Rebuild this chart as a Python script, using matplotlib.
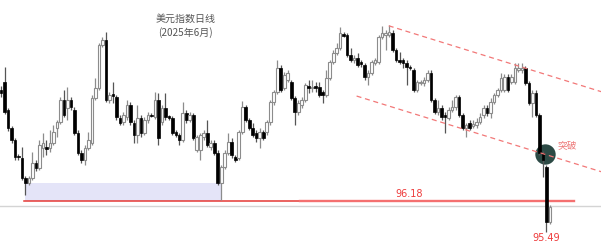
import matplotlib
matplotlib.use("Agg")
import matplotlib.pyplot as plt

plt.rcParams['font.family'] = ['Noto Sans CJK SC', 'DejaVu Sans']

# bougies journalieres
opens = [98.68, 98.86, 98.23, 97.82, 97.55, 97.19, 97.15, 96.70, 96.58, 96.70,
         97.03, 96.92, 97.37, 97.39, 97.37, 97.48, 97.82, 97.96, 98.45, 98.27,
         98.45, 98.23, 97.71, 97.26, 97.10, 97.37, 97.48, 98.50, 98.72, 99.69,
         99.80, 98.45, 98.59, 98.52, 98.05, 97.96, 98.07, 98.34, 97.93, 97.66,
         98.05, 97.71, 98.00, 98.12, 98.07, 98.45, 97.96, 98.27, 98.09, 98.05,
         97.73, 97.66, 97.55, 98.16, 98.00, 98.11, 97.33, 97.33, 97.62, 97.71,
         97.39, 97.48, 97.26, 96.58, 96.94, 97.26, 97.51, 97.17, 97.15, 97.73,
         98.29, 98.00, 97.82, 97.71, 97.60, 97.73, 97.73, 97.96, 98.41, 98.63,
         99.17, 98.72, 98.90, 98.86, 98.50, 98.18, 98.34, 98.45, 98.77, 98.71,
         98.77, 98.74, 98.63, 98.56, 98.95, 99.31, 99.51, 99.62, 99.94, 99.91,
         99.46, 99.35, 99.40, 99.31, 99.24, 98.97, 99.06, 99.28, 99.31, 99.87,
         99.91, 99.91, 99.96, 99.58, 99.35, 99.35, 99.28, 99.19, 99.13, 98.68,
         98.83, 98.83, 98.90, 99.06, 98.45, 98.18, 98.27, 98.11, 98.05, 98.23,
         98.29, 98.52, 98.11, 97.82, 97.93, 97.87, 97.89, 97.96, 98.11, 98.27,
         98.16, 98.41, 98.56, 98.68, 98.68, 98.97, 98.86, 98.86, 99.13, 99.13,
         99.17, 98.83, 98.38, 98.61, 98.11, 97.26, 96.94, 95.71]
highs = [98.77, 99.19, 98.27, 97.87, 97.60, 97.24, 97.39, 96.74, 96.74, 97.28,
         97.10, 97.55, 97.71, 97.55, 97.78, 97.89, 98.00, 98.52, 98.68, 98.74,
         98.52, 98.29, 97.78, 97.33, 97.44, 97.73, 98.56, 98.95, 99.73, 99.87,
         99.98, 98.63, 98.86, 98.56, 98.11, 98.18, 98.45, 98.41, 98.00, 98.34,
         98.11, 98.07, 98.18, 98.16, 98.63, 98.61, 98.34, 98.61, 98.11, 98.09,
         97.78, 97.71, 98.41, 98.23, 98.18, 98.16, 97.66, 97.71, 97.78, 98.00,
         97.55, 97.55, 97.33, 96.99, 97.33, 97.71, 97.60, 97.21, 97.78, 98.43,
         98.34, 98.05, 97.93, 97.78, 97.82, 97.78, 98.00, 98.45, 98.68, 99.35,
         99.24, 99.08, 99.13, 98.90, 98.54, 98.45, 98.52, 98.83, 98.90, 98.90,
         98.86, 98.86, 98.68, 99.13, 99.35, 99.58, 99.73, 100.09, 99.98, 99.96,
         99.62, 99.46, 99.51, 99.35, 99.28, 99.13, 99.35, 99.40, 99.91, 100.12,
         100.03, 100.14, 100.03, 99.62, 99.53, 99.40, 99.35, 99.24, 99.17, 98.90,
         98.90, 98.97, 99.13, 99.13, 98.50, 98.45, 98.34, 98.18, 98.29, 98.45,
         98.56, 98.56, 98.16, 97.93, 98.00, 98.00, 98.05, 98.16, 98.34, 98.34,
         98.50, 98.61, 98.72, 99.06, 99.04, 99.04, 99.04, 99.28, 99.28, 99.28,
         99.22, 98.88, 98.68, 98.68, 98.16, 97.30, 96.99, 96.09]
lows = [98.52, 98.14, 97.75, 97.48, 97.10, 97.10, 96.65, 96.31, 96.54, 96.65,
        96.85, 96.88, 97.17, 97.21, 97.28, 97.44, 97.62, 97.91, 98.07, 98.00,
        98.23, 97.66, 97.21, 97.03, 96.99, 97.33, 97.44, 98.45, 98.68, 99.64,
        98.41, 98.38, 98.38, 98.00, 97.89, 97.89, 98.00, 97.89, 97.48, 97.48,
        97.62, 97.66, 97.93, 98.07, 98.02, 97.44, 97.89, 98.00, 98.00, 97.66,
        97.62, 97.44, 97.51, 97.93, 97.96, 97.55, 97.28, 97.10, 97.55, 97.39,
        97.33, 97.21, 96.54, 96.20, 96.90, 97.21, 97.15, 97.06, 97.10, 97.69,
        97.96, 97.78, 97.62, 97.51, 97.37, 97.55, 97.66, 97.89, 98.34, 98.59,
        98.63, 98.68, 98.86, 98.45, 97.89, 98.11, 98.27, 98.41, 98.61, 98.63,
        98.63, 98.52, 98.38, 98.52, 98.90, 99.26, 99.46, 99.58, 99.87, 99.42,
        99.31, 99.28, 99.19, 99.19, 98.90, 98.79, 99.01, 99.24, 99.26, 99.82,
        99.58, 99.87, 99.53, 99.31, 99.26, 99.17, 98.79, 99.13, 98.63, 98.63,
        98.79, 98.77, 98.86, 98.41, 98.14, 98.11, 98.00, 97.71, 98.00, 98.18,
        98.23, 98.07, 97.78, 97.62, 97.78, 97.82, 97.82, 97.91, 98.05, 98.09,
        98.05, 98.36, 98.52, 98.63, 98.63, 98.63, 98.81, 98.81, 99.08, 99.06,
        98.79, 98.34, 98.07, 98.07, 97.21, 96.72, 95.49, 95.66]
closes = [98.61, 98.18, 97.82, 97.55, 97.17, 97.16, 96.70, 96.58, 96.70, 97.03,
          96.92, 97.44, 97.48, 97.35, 97.48, 97.73, 97.96, 98.45, 98.11, 98.45,
          98.29, 97.71, 97.26, 97.10, 97.37, 97.55, 98.50, 98.72, 99.69, 99.80,
          98.45, 98.56, 98.54, 98.07, 97.93, 98.11, 98.34, 97.96, 97.66, 98.05,
          97.71, 98.00, 98.11, 98.09, 98.45, 97.60, 98.27, 98.07, 98.05, 97.71,
          97.66, 97.55, 98.16, 98.00, 98.11, 97.60, 97.62, 97.66, 97.71, 97.44,
          97.48, 97.26, 96.58, 96.94, 97.26, 97.51, 97.21, 97.10, 97.73, 98.29,
          98.00, 97.82, 97.66, 97.60, 97.73, 97.60, 97.96, 98.41, 98.63, 99.17,
          98.68, 99.01, 99.06, 98.50, 98.18, 98.38, 98.45, 98.79, 98.72, 98.74,
          98.72, 98.56, 98.56, 98.95, 99.31, 99.51, 99.62, 99.96, 99.89, 99.46,
          99.35, 99.40, 99.24, 99.26, 98.97, 99.06, 99.31, 99.35, 99.87, 99.96,
          99.96, 99.98, 99.58, 99.35, 99.31, 99.28, 99.19, 99.17, 98.68, 98.86,
          98.86, 98.90, 99.06, 98.45, 98.18, 98.27, 98.07, 98.07, 98.23, 98.29,
          98.52, 98.11, 97.82, 97.89, 97.82, 97.91, 97.96, 98.07, 98.27, 98.16,
          98.41, 98.56, 98.68, 98.95, 98.97, 98.68, 98.97, 99.17, 99.17, 99.17,
          98.83, 98.38, 98.61, 98.11, 97.26, 97.10, 95.71, 96.04]

# annotations
niveau = 96.18
niveau_debut, niveau_coupure, niveau_fin = 6.6, 85.4, 163.9
zone_haut = 96.58
zone_gauche, zone_droite = 7, 63
canal_haut = ([110.9, 172.0], [100.12, 98.63])
canal_bas = ([101.7, 172.0], [98.54, 96.83])
cassure = (155.5, 97.24)
ligne_grise = 96.07

fig = plt.figure(figsize=(6.01, 2.45), dpi=100)
ax = fig.add_axes([0, 0, 1, 1])
ax.axis('off')

# zone support
ax.fill_between([zone_gauche, zone_droite], niveau, zone_haut, color='#e4e4f8', lw=0, zorder=1)
ax.axhline(ligne_grise, color='#d4d4d4', lw=1, zorder=1)
ax.plot([niveau_debut, niveau_coupure], [niveau, niveau], color='#e53935', lw=1.1, zorder=2)
ax.plot([niveau_coupure, niveau_fin], [niveau, niveau], color='#f47070', lw=1.7, zorder=2)

ax.scatter([cassure[0]], [cassure[1]], s=215, color='#2c4a45', zorder=2.5, lw=0)

# bougies
for i in range(len(opens)):
    o, h, l, c = opens[i], highs[i], lows[i], closes[i]
    if c >= o:
        ax.vlines(i, l, h, color='#8c8c8c', lw=0.9, zorder=3)
        ax.bar(i, max(c - o, 0.01), bottom=o, width=0.76, facecolor='white',
               edgecolor='#8c8c8c', lw=0.8, zorder=4)
    else:
        ax.vlines(i, l, h, color='#555555', lw=0.9, zorder=3)
        ax.bar(i, max(o - c, 0.01), bottom=c, width=0.76, facecolor='black',
               edgecolor='black', lw=0.5, zorder=4)

ax.plot(canal_haut[0], canal_haut[1], color='#f27878', lw=0.9, ls=(0, (4, 3)), zorder=5)
ax.plot(canal_bas[0], canal_bas[1], color='#f27878', lw=0.9, ls=(0, (4, 3)), zorder=5)

ax.text(116.7, 96.34, "96.18", color='#ee3b3b', fontsize=7, ha='center', va='center',
        family=['DejaVu Sans'])
ax.text(155.9, 95.35, "95.49", color='#ee3b3b', fontsize=7, ha='center', va='center',
        family=['DejaVu Sans'])
ax.text(161.9, 97.42, "突破", color='#ee7a7a', fontsize=7, ha='center', va='center')

fig.text(0.309, 0.922, "美元指数日线", color='#555555', fontsize=7.2, ha='center', va='center')
fig.text(0.309, 0.869, "(2025年6月)", color='#555555', fontsize=7.2, ha='center', va='center')

ax.set_xlim(-0.29, 171.6)
ax.set_ylim(95.19, 100.70)

plt.savefig("out.png", dpi=100)
